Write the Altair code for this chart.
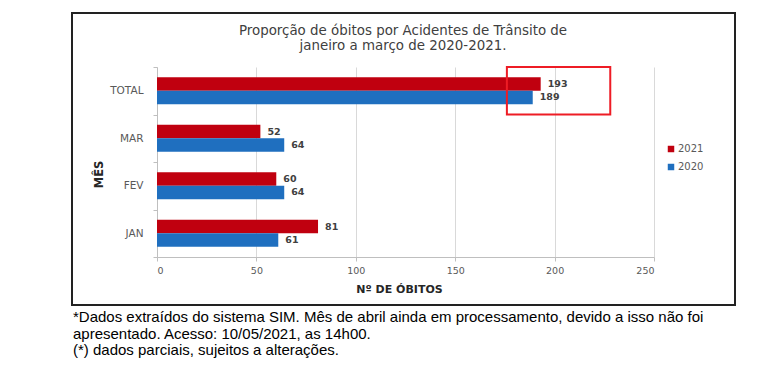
import altair as alt
import pandas as pd

# ---- data ----
meses = ["TOTAL", "MAR", "FEV", "JAN"]
anos = ["2021", "2020"]
obitos_2021 = [193, 52, 60, 81]
obitos_2020 = [189, 64, 64, 61]
cores = ["#C0000F", "#1F6FBF"]
x_ticks = [0, 50, 100, 150, 200, 250]

destaque_mes = ["TOTAL"]
destaque_inicio = [176]
destaque_fim = [228]

titulo = ["Proporção de óbitos por Acidentes de Trânsito de",
          "janeiro a março de 2020-2021."]
nota = ["*Dados extraídos do sistema SIM. Mês de abril ainda em processamento, devido a isso não foi",
        "apresentado. Acesso: 10/05/2021, as 14h00.",
        "(*) dados parciais, sujeitos a alterações."]

rows = []
for m, a, b in zip(meses, obitos_2021, obitos_2020):
    rows.append({"mes": m, "ano": anos[0], "obitos": a})
    rows.append({"mes": m, "ano": anos[1], "obitos": b})
df = pd.DataFrame(rows)

df_dest = pd.DataFrame({"mes": destaque_mes, "ini": destaque_inicio, "fim": destaque_fim})
one = pd.DataFrame({"k": [0]})

FONT = "DejaVu Sans"
LABEL_GRAY = "#595959"

y_enc = alt.Y(
    "mes:N", sort=meses,
    scale=alt.Scale(domain=meses, paddingInner=0, paddingOuter=0),
    axis=alt.Axis(
        title="MÊS", titleFont=FONT, titleFontSize=11.5, titleFontWeight="bold",
        titleColor="#262626", titleX=-55, titleY=107, titleBaseline="alphabetic",
        labelFont=FONT, labelFontSize=10.5, labelColor=LABEL_GRAY, labelPadding=10,
        tickBand="extent", tickSize=4, tickColor="#BFBFBF",
        domainColor="#BFBFBF", grid=False,
    ),
)
yoff_enc = alt.YOffset("ano:N", sort=anos,
                       scale=alt.Scale(domain=anos, paddingInner=0, paddingOuter=0.76))
x_enc = alt.X(
    "obitos:Q",
    scale=alt.Scale(domain=[0, 250], nice=False),
    axis=alt.Axis(
        values=x_ticks, title="Nº DE ÓBITOS", titleFont=FONT, titleFontSize=11,
        titleFontWeight="bold", titleColor="#262626", titleX=242, titleY=35,
        titleBaseline="alphabetic",
        labelFont=FONT, labelFontSize=9.5, labelColor=LABEL_GRAY, labelPadding=4,
        tickSize=4, tickColor="#BFBFBF", domainColor="#BFBFBF",
        grid=True, gridColor="#D9D9D9",
    ),
)
color_enc = alt.Color(
    "ano:N", sort=anos,
    scale=alt.Scale(domain=anos, range=cores),
    legend=alt.Legend(
        orient="none", legendX=509, legendY=77, title=None, direction="vertical",
        symbolType="square", symbolSize=42, symbolStrokeWidth=0,
        labelFont=FONT, labelFontSize=10, labelColor=LABEL_GRAY,
        rowPadding=8, labelOffset=2,
    ),
)

box = alt.Chart(one).mark_rect(filled=False, stroke="#222222", strokeWidth=2).encode(
    x=alt.value(-85), x2=alt.value(578), y=alt.value(-54), y2=alt.value(238)
)

bars = alt.Chart(df).mark_bar().encode(
    y=y_enc, yOffset=yoff_enc, x=x_enc, color=color_enc
)

labels = alt.Chart(df).mark_text(
    align="left", baseline="middle", dx=7, font=FONT, fontSize=9.5,
    fontWeight="bold", color="#404040"
).encode(
    y=alt.Y("mes:N", sort=meses), yOffset=alt.YOffset("ano:N", sort=anos),
    x="obitos:Q", text="obitos:Q"
)

highlight = alt.Chart(df_dest).mark_rect(
    filled=False, stroke="#EE1C25", strokeWidth=2
).encode(
    y=alt.Y("mes:N", sort=meses), x="ini:Q", x2="fim:Q"
)

title_txt = alt.Chart(one).mark_text(
    align="center", baseline="alphabetic", font=FONT, fontSize=13.4,
    color="#404040", lineBreak="\n", lineHeight=15
).encode(x=alt.value(246), y=alt.value(-32), text=alt.value("\n".join(titulo)))

note_txt = alt.Chart(one).mark_text(
    align="left", baseline="alphabetic", font="Liberation Sans", fontSize=15,
    color="#000000", lineBreak="\n", lineHeight=16.5
).encode(x=alt.value(-84), y=alt.value(255), text=alt.value("\n".join(nota)))

chart = alt.layer(box, bars, labels, highlight, title_txt, note_txt).properties(
    width=497, height=190,
    autosize=alt.AutoSizeParams(type="none"),
    padding={"left": 149, "top": 59, "right": 100, "bottom": 110},
    background="white",
).configure_view(stroke=None)

chart.save("out.html", embed_options={"renderer": "svg", "actions": False})
